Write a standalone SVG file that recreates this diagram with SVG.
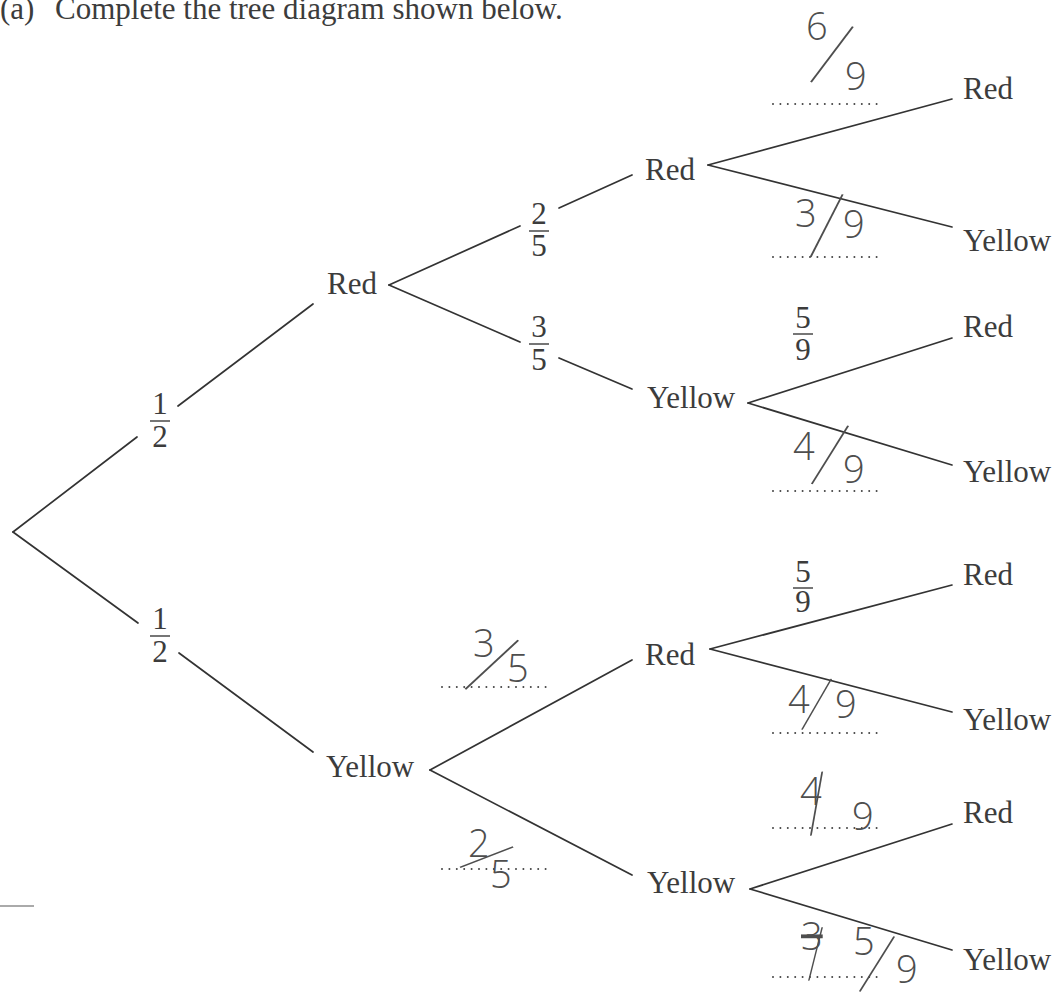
<svg xmlns="http://www.w3.org/2000/svg" width="1056" height="992" viewBox="0 0 1056 992">
<style>
  .lbl { font-family: "Liberation Serif", "Times New Roman", serif; font-size: 31px; fill: #3c3c3c; }
  .frac { font-family: "Liberation Serif", "Times New Roman", serif; font-size: 31px; fill: #3c3c3c; text-anchor: middle; }
  .bar { stroke: #3c3c3c; stroke-width: 1.4; }
  .edge { stroke: #333; stroke-width: 1.7; fill: none; stroke-linecap: round; }
  .blank { stroke: #444; stroke-width: 2; stroke-dasharray: 0 7.4; stroke-linecap: round; }
  .hw { font-family: "Open Sans", "DejaVu Sans", sans-serif; font-weight: 300; font-size: 38px; fill: #4e4e4e; }
  .sl { font-family: "Inter", "Open Sans", sans-serif; font-weight: 100; }
</style>
<rect width="1056" height="992" fill="#ffffff"/>

<g id="heading">
  <text class="lbl" x="0" y="19">(a)</text>
  <text class="lbl" x="55" y="19">Complete the tree diagram shown below.</text>
</g>

<g id="connectors">
  <line class="edge" x1="13" y1="532" x2="137" y2="437"/>
  <line class="edge" x1="178" y1="406" x2="313" y2="304"/>
  <line class="edge" x1="13" y1="532" x2="138" y2="623"/>
  <line class="edge" x1="179" y1="653" x2="313" y2="752"/>

  <line class="edge" x1="389" y1="285" x2="520" y2="226"/>
  <line class="edge" x1="559" y1="208" x2="632" y2="175"/>
  <line class="edge" x1="389" y1="285" x2="520" y2="342"/>
  <line class="edge" x1="559" y1="358" x2="632" y2="389"/>

  <line class="edge" x1="430" y1="770" x2="632" y2="660"/>
  <line class="edge" x1="430" y1="770" x2="632" y2="875"/>

  <line class="edge" x1="708" y1="165" x2="952" y2="99"/>
  <line class="edge" x1="708" y1="165" x2="952" y2="227"/>
  <line class="edge" x1="748" y1="403" x2="952" y2="338"/>
  <line class="edge" x1="748" y1="403" x2="952" y2="465"/>
  <line class="edge" x1="710" y1="649" x2="952" y2="585"/>
  <line class="edge" x1="710" y1="649" x2="952" y2="712"/>
  <line class="edge" x1="750" y1="889" x2="952" y2="824"/>
  <line class="edge" x1="750" y1="889" x2="952" y2="950"/>
</g>

<g id="nodes">
  <g id="n-red"><text class="lbl" x="327" y="294">Red</text></g>
  <g id="n-yellow"><text class="lbl" x="326" y="777">Yellow</text></g>
  <g id="n-red-red"><text class="lbl" x="645" y="180">Red</text></g>
  <g id="n-red-yellow"><text class="lbl" x="647" y="408">Yellow</text></g>
  <g id="n-yellow-red"><text class="lbl" x="645" y="665">Red</text></g>
  <g id="n-yellow-yellow"><text class="lbl" x="647" y="893">Yellow</text></g>
  <g id="n-rr-red"><text class="lbl" x="963" y="99">Red</text></g>
  <g id="n-rr-yellow"><text class="lbl" x="963" y="251">Yellow</text></g>
  <g id="n-ry-red"><text class="lbl" x="963" y="337">Red</text></g>
  <g id="n-ry-yellow"><text class="lbl" x="963" y="482">Yellow</text></g>
  <g id="n-yr-red"><text class="lbl" x="963" y="585">Red</text></g>
  <g id="n-yr-yellow"><text class="lbl" x="963" y="730">Yellow</text></g>
  <g id="n-yy-red"><text class="lbl" x="963" y="823">Red</text></g>
  <g id="n-yy-yellow"><text class="lbl" x="963" y="970">Yellow</text></g>
</g>

<g id="printed-fractions">
  <g><text class="frac"><tspan x="160" y="414">1</tspan><tspan x="160" y="447">2</tspan></text><line class="bar" x1="150" y1="421" x2="170" y2="421"/></g>
  <g><text class="frac"><tspan x="160" y="629">1</tspan><tspan x="160" y="662">2</tspan></text><line class="bar" x1="150" y1="636" x2="170" y2="636"/></g>
  <g><text class="frac"><tspan x="539" y="224">2</tspan><tspan x="539" y="256">5</tspan></text><line class="bar" x1="529" y1="231" x2="549" y2="231"/></g>
  <g><text class="frac"><tspan x="539" y="337">3</tspan><tspan x="539" y="370">5</tspan></text><line class="bar" x1="529" y1="344" x2="549" y2="344"/></g>
  <g><text class="frac"><tspan x="803" y="328">5</tspan><tspan x="803" y="360">9</tspan></text><line class="bar" x1="793" y1="334" x2="813" y2="334"/></g>
  <g><text class="frac"><tspan x="803" y="582">5</tspan><tspan x="803" y="612">9</tspan></text><line class="bar" x1="793" y1="588" x2="813" y2="588"/></g>
</g>

<g id="answer-blanks">
  <line class="blank" x1="773" y1="104" x2="880" y2="104"/>
  <line class="blank" x1="773" y1="257" x2="880" y2="257"/>
  <line class="blank" x1="773" y1="491" x2="880" y2="491"/>
  <line class="blank" x1="773" y1="733" x2="880" y2="733"/>
  <line class="blank" x1="773" y1="828" x2="880" y2="828"/>
  <line class="blank" x1="773" y1="977" x2="880" y2="977"/>
  <line class="blank" x1="442" y1="687" x2="550" y2="687"/>
  <line class="blank" x1="442" y1="869" x2="550" y2="869"/>
</g>

<g id="handwritten">
  <text class="hw"><tspan x="806" y="40">6</tspan><tspan class="sl" style="font-size:77px" x="811" y="73" rotate="22">/</tspan><tspan x="845" y="90">9</tspan></text>
  <text class="hw"><tspan x="795" y="227">3</tspan><tspan class="sl" style="font-size:78px" x="809" y="248" rotate="12">/</tspan><tspan x="843" y="238">9</tspan></text>
  <text class="hw"><tspan x="793" y="460">4</tspan><tspan class="sl" style="font-size:76px" x="811" y="475" rotate="17">/</tspan><tspan x="843" y="483">9</tspan></text>
  <text class="hw"><tspan x="788" y="713">4</tspan><tspan class="sl" style="font-size:65px" x="801" y="722" rotate="15">/</tspan><tspan x="835" y="718">9</tspan></text>
  <text class="hw"><tspan x="800" y="805">4</tspan><tspan class="sl" style="font-size:72px" x="807" y="828" rotate="-5">/</tspan><tspan x="852" y="830">9</tspan></text>
  <text class="hw"><tspan x="801" y="950" text-decoration="line-through">3</tspan><tspan class="sl" style="font-size:61px" x="806" y="974" rotate="-1">/</tspan><tspan x="853" y="955">5</tspan><tspan class="sl" style="font-size:72px" x="859" y="983" rotate="17">/</tspan><tspan x="896" y="983">9</tspan></text>
  <text class="hw"><tspan x="473" y="657">3</tspan><tspan class="sl" style="font-size:80px" x="467" y="680" rotate="32">/</tspan><tspan x="507" y="682">5</tspan></text>
  <text class="hw"><tspan x="468" y="857">2</tspan><tspan class="sl" style="font-size:63px" x="464" y="861" rotate="54">/</tspan><tspan x="490" y="888">5</tspan></text>
</g>

<line x1="0" y1="906" x2="34" y2="906" stroke="#aaaaaa" stroke-width="2"/>
</svg>
